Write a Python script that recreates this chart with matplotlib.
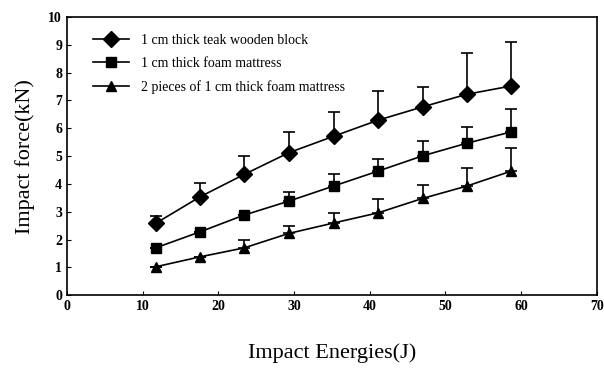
import matplotlib.pyplot as plt
from matplotlib.lines import Line2D

plt.rcParams['font.family'] = ['Liberation Serif', 'DejaVu Serif']

energies = [11.7, 17.6, 23.4, 29.3, 35.3, 41.1, 47.0, 52.8, 58.7]

teak_force = [2.58, 3.54, 4.34, 5.12, 5.72, 6.29, 6.77, 7.22, 7.52]
teak_top = [2.85, 4.02, 5.00, 5.87, 6.57, 7.34, 7.47, 8.69, 9.11]

foam_force = [1.70, 2.28, 2.88, 3.38, 3.93, 4.46, 5.01, 5.46, 5.87]
foam_top = [1.70, 2.28, 2.88, 3.72, 4.34, 4.90, 5.54, 6.03, 6.70]

foam2_force = [1.02, 1.38, 1.70, 2.22, 2.60, 2.96, 3.48, 3.92, 4.46]
foam2_top = [1.02, 1.38, 1.98, 2.49, 2.97, 3.45, 3.96, 4.58, 5.28]

labels = ["1 cm thick teak wooden block",
          "1 cm thick foam mattress",
          "2 pieces of 1 cm thick foam mattress"]


def upper_err(vals, tops):
    return [[0] * len(vals), [t - v for v, t in zip(vals, tops)]]


fig = plt.figure(figsize=(6.04, 3.69), dpi=100)
ax = fig.add_axes([0.111, 0.2, 0.877, 0.754])

series = [
    (teak_force, teak_top, "D", 8),
    (foam_force, foam_top, "s", 7),
    (foam2_force, foam2_top, "^", 7.5),
]
handles = []
for (vals, tops, mk, ms), lab in zip(series, labels):
    ax.errorbar(energies, vals, yerr=upper_err(vals, tops), color="black",
                marker=mk, markersize=ms, linewidth=1.2, elinewidth=1.2,
                capsize=4, capthick=1.2)
    handles.append(Line2D([], [], color="black", marker=mk, markersize=ms,
                          linewidth=1.2, label=lab))

ax.set_xlim(0, 70)
ax.set_ylim(0, 10)
ax.set_xticks(range(0, 71, 10))
ax.set_yticks(range(0, 11))
ax.tick_params(direction="in", labelsize=10, length=3)
for lab in ax.get_xticklabels() + ax.get_yticklabels():
    lab.set_fontweight("bold")
for s in ax.spines.values():
    s.set_linewidth(1.2)

ax.set_xlabel("Impact Energies(J)", fontsize=16, labelpad=22)
ax.set_ylabel("Impact force(kN)", fontsize=16, labelpad=10)

ax.legend(handles=handles, loc="upper left", frameon=False, fontsize=10,
          handlelength=2.6, labelspacing=0.75, handletextpad=0.9,
          bbox_to_anchor=(0.025, 0.985))

fig.savefig("out.png", dpi=100)
